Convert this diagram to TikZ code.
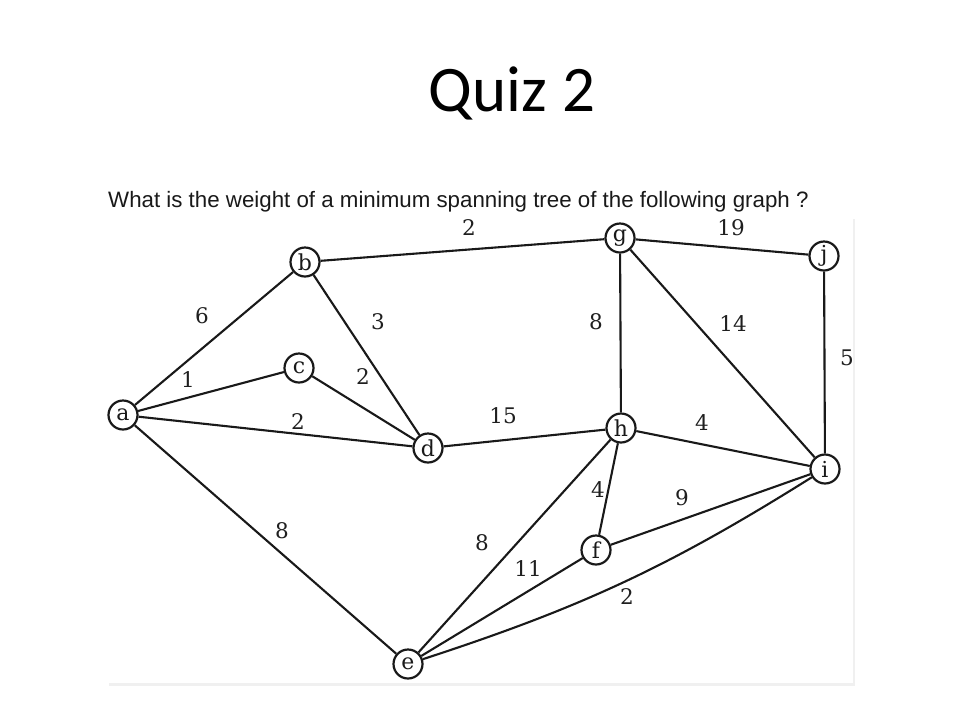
\documentclass[tikz,border=0pt]{standalone}
\usepackage{fontspec}
\setmainfont{DejaVu Serif}
\newfontfamily\titlefont{Carlito}
\newfontfamily\qfont{Liberation Sans}
\newfontfamily\labfont{DejaVu Serif}
\begin{document}
\begin{tikzpicture}[x=1pt,y=-1pt,
  vertex/.style={circle, draw=black!90, line width=2.2pt, minimum size=29pt, inner sep=0pt,
    font=\labfont\fontsize{22}{22}\selectfont, text=black!90},
  edge/.style={draw=black!90, line width=2.1pt},
  wlabel/.style={inner sep=0pt, font=\labfont\fontsize{21.5}{21.5}\selectfont, text=black!88}]
\useasboundingbox (0,0) rectangle (973,705);
% picture frame
\fill[black!6] (109,219) rectangle (855,686);
\fill[white] (107,217) rectangle (853,683);
% title and question
\node[anchor=base, inner sep=0pt, font=\titlefont\fontsize{65}{65}\selectfont] (title) at (512,111) {Quiz 2};
\node[anchor=base west, inner sep=0pt, font=\qfont\fontsize{22.3}{22.3}\selectfont, text=black!90] (question) at (108,207)
  {What is the weight of a minimum spanning tree of the following graph ?};
% vertices
\node[vertex] (a) at (123,415) {a};
\node[vertex] (b) at (305,262) {b};
\node[vertex] (c) at (299,368) {c};
\node[vertex] (d) at (428,448) {d};
\node[vertex] (e) at (408,664) {e};
\node[vertex] (f) at (596,550) {f};
\node[vertex] (g) at (620,238) {g};
\node[vertex] (h) at (621,428) {h};
\node[vertex] (i) at (825,469) {i};
\node[vertex] (j) at (824,256) {j};
% edges
\draw[edge] (a) -- (b);
\draw[edge] (a) -- (c);
\draw[edge] (a) -- (d);
\draw[edge] (a) -- (e);
\draw[edge] (b) -- (g);
\draw[edge] (b) -- (d);
\draw[edge] (c) -- (d);
\draw[edge] (d) -- (h);
\draw[edge] (g) -- (j);
\draw[edge] (g) -- (h);
\draw[edge] (g) -- (i);
\draw[edge] (j) -- (i);
\draw[edge] (h) -- (i);
\draw[edge] (h) -- (f);
\draw[edge] (h) -- (e);
\draw[edge] (f) -- (i);
\draw[edge] (f) -- (e);
\draw[edge] (e) to[bend right=7] (i);
% weights
\node[wlabel] (wbg) at (469,228) {2};
\node[wlabel] (wgj) at (731,228) {19};
\node[wlabel] (wab) at (202,316) {6};
\node[wlabel] (wbd) at (378,322) {3};
\node[wlabel] (wgh) at (596,322) {8};
\node[wlabel] (wgi) at (733,324) {14};
\node[wlabel] (wji) at (847,358) {5};
\node[wlabel] (wac) at (188,380) {1};
\node[wlabel] (wcd) at (363,377) {2};
\node[wlabel] (wad) at (298,422) {2};
\node[wlabel] (wdh) at (503,416) {15};
\node[wlabel] (whi) at (702,423) {4};
\node[wlabel] (whf) at (598,490) {4};
\node[wlabel] (wfi) at (682,498) {9};
\node[wlabel] (wae) at (282,531) {8};
\node[wlabel] (whe) at (482,543) {8};
\node[wlabel] (wfe) at (528,569) {11};
\node[wlabel] (wei) at (627,597) {2};
\end{tikzpicture}
\end{document}
